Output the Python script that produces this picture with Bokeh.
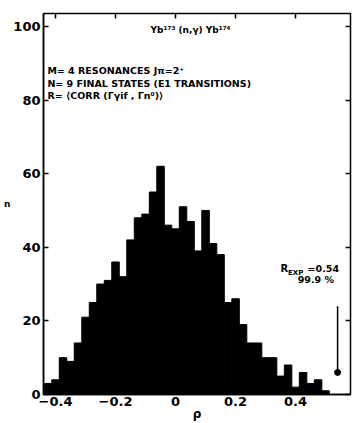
from bokeh.plotting import figure
from bokeh.models import Label, LinearAxis, FixedTicker, Range1d
from bokeh.embed import file_html
from bokeh.resources import INLINE

# ---- data ----
rho_centers = [-0.425, -0.4, -0.375, -0.35, -0.325, -0.3, -0.275, -0.25, -0.225, -0.2,
               -0.175, -0.15, -0.125, -0.1, -0.075, -0.05, -0.025, 0.0, 0.025, 0.05,
               0.075, 0.1, 0.125, 0.15, 0.175, 0.2, 0.225, 0.25, 0.275, 0.3,
               0.325, 0.35, 0.375, 0.4, 0.425, 0.45, 0.475, 0.5]
counts = [3, 4, 10, 9, 14, 21, 25, 30, 31, 36,
          32, 42, 48, 49, 55, 62, 46, 45, 51, 47,
          39, 50, 41, 38, 25, 26, 19, 14, 14, 10,
          10, 5, 8, 2, 6, 3, 4, 1]
bin_width = 0.025
r_exp = 0.54
arrow_top = 24
arrow_bottom = 6
x_ticks = [-0.4, -0.2, 0, 0.2, 0.4]
y_ticks = [0, 20, 40, 60, 80, 100]

FONT = "DejaVu Sans"

p = figure(width=352, height=423, output_backend="svg", toolbar_location=None,
           x_range=Range1d(-0.44, 0.583), y_range=Range1d(0, 103.5),
           min_border_left=43, min_border_right=2, min_border_top=13, min_border_bottom=28)
p.grid.visible = False
p.outline_line_color = "black"
p.outline_line_width = 1.5

left = [c - bin_width / 2 for c in rho_centers]
right = [c + bin_width / 2 for c in rho_centers]
p.quad(left=left, right=right, top=counts, bottom=0, fill_color="black", line_color="black")

# arrow marking R_EXP
p.segment(x0=[r_exp], y0=[arrow_top], x1=[r_exp], y1=[arrow_bottom], line_color="black", line_width=1.5)
p.scatter(x=[r_exp], y=[arrow_bottom], size=6, color="black")

# axes
for ax in (p.xaxis[0], p.yaxis[0]):
    ax.major_tick_in = 5
    ax.major_tick_out = 0
    ax.minor_tick_in = 0
    ax.minor_tick_out = 0
    ax.axis_line_width = 1.5
    ax.major_tick_line_width = 1.5
    ax.major_label_text_font = FONT
    ax.major_label_text_font_style = "bold"
    ax.major_label_text_font_size = "13px"
    ax.major_label_text_color = "black"
    ax.axis_label_text_font = FONT
    ax.axis_label_text_font_style = "bold"
    ax.axis_label_text_color = "black"
p.xaxis[0].ticker = FixedTicker(ticks=x_ticks)
p.yaxis[0].ticker = FixedTicker(ticks=y_ticks)
p.xaxis[0].major_label_overrides = {0: "0"}
p.xaxis[0].major_label_standoff = 2
p.yaxis[0].major_label_standoff = 3

p.xaxis[0].axis_label = "ρ"
p.xaxis[0].axis_label_text_font_size = "12px"
p.xaxis[0].axis_label_standoff = -2
p.yaxis[0].axis_label = "n"
p.yaxis[0].axis_label_text_font_size = "9px"
p.yaxis[0].axis_label_orientation = "horizontal"
p.yaxis[0].axis_label_standoff = 0

y_blank = {t: "" for t in y_ticks}
x_blank = {t: "" for t in x_ticks}
rax = LinearAxis(ticker=FixedTicker(ticks=y_ticks), major_tick_in=5, major_tick_out=0,
                 minor_tick_in=0, minor_tick_out=0, major_label_overrides=y_blank,
                 axis_line_color=None, major_tick_line_width=1.5, major_label_standoff=0)
p.add_layout(rax, "right")
tax = LinearAxis(ticker=FixedTicker(ticks=x_ticks), major_tick_in=5, major_tick_out=0,
                 minor_tick_in=0, minor_tick_out=0, major_label_overrides=x_blank,
                 axis_line_color=None, major_tick_line_width=1.5, major_label_standoff=0)
p.add_layout(tax, "above")


def lab(x, y, text, size="9.5px", align="left", baseline="middle"):
    p.add_layout(Label(x=x, y=y, text=text, text_font=FONT, text_font_style="bold",
                       text_font_size=size, text_align=align, text_baseline=baseline,
                       text_color="black"))


lab(0.05, 98.9, "Yb¹⁷³ (n,γ) Yb¹⁷⁴", size="9px", align="center")
lab(-0.427, 88.1, "M= 4 RESONANCES  Jπ=2⁺")
lab(-0.427, 84.5, "N= 9 FINAL STATES (E1 TRANSITIONS)")
lab(-0.427, 81.3, "R= ⟨CORR (Γγif , Γn⁰)⟩")

lab(0.35, 34.2, "R", size="10px")
lab(0.375, 33.0, "EXP", size="7px")
lab(0.44, 34.2, "=0.54", size="9.5px")
lab(0.407, 31.3, "99.9 %", size="9.5px")

open("out.html", "w").write(file_html(p, INLINE))
